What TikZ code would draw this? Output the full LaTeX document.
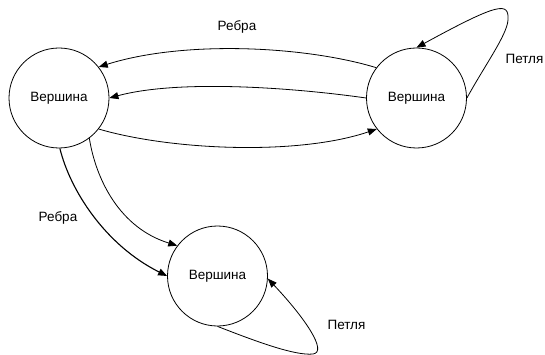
\documentclass[tikz,border=0pt]{standalone}
\usepackage{fontspec}
\setmainfont{Liberation Sans}
\usetikzlibrary{arrows.meta}
\begin{document}
\begin{tikzpicture}[x=1pt,y=-1pt,
  vertex/.style={draw,circle,minimum size=100pt,inner sep=0pt,line width=0.8pt,font=\fontsize{13.5}{16}\selectfont},
  edge/.style={line width=0.8pt,-{Triangle[length=9pt,width=7pt]}},
  lbl/.style={font=\fontsize{13.5}{16}\selectfont,inner sep=0pt}]
\fill[white] (0,0) rectangle (545,355);
\useasboundingbox (0,0) rectangle (545,355);
\node[vertex] (A) at (59,98) {Вершина};
\node[vertex] (B) at (416.5,98) {Вершина};
\node[vertex] (C) at (217.5,276) {Вершина};
% B -> A (upper)
\draw[edge] (B.143) .. controls (305,46) and (184,40) .. (A.38);
% B -> A (lower)
\draw[edge] (B.180) .. controls (296,88) and (180,79) .. (A.0);
% A -> B
\draw[edge] (A.-38) .. controls (170,150) and (297,156) .. (B.218);
% A -> C (outer)
\draw[edge,line width=1.1pt] (A.-89) .. controls (70,190) and (105,245) .. (C.180);
% A -> C (inner)
\draw[edge] (A.-53) .. controls (96,180) and (120,228) .. (C.143);
% loop at B
\draw[edge] (B.0) .. controls (485,65) and (507,35) .. (508,20) .. controls (509,2) and (500,2) .. (B.90);
% loop at C
\draw[edge] (C.-90) .. controls (255,341) and (295,356) .. (313,354) .. controls (328,352) and (305,318) .. (C.-3);
\node[lbl] (l1) at (237,27) {Ребра};
\node[lbl] (l2) at (524.5,59) {Петля};
\node[lbl] (l3) at (58,218) {Ребра};
\node[lbl] (l4) at (346.5,325) {Петля};
\end{tikzpicture}
\end{document}
